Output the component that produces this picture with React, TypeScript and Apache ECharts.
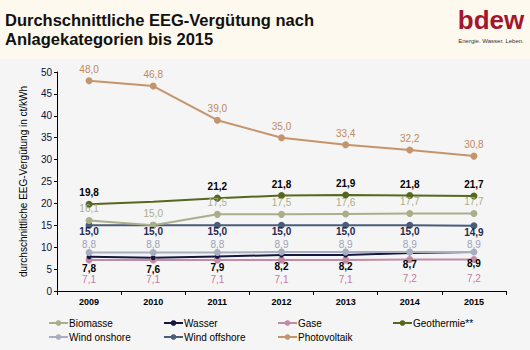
import React, { useEffect, useRef } from "react";
import * as echarts from "echarts";

const years = ["2009", "2010", "2011", "2012", "2013", "2014", "2015"];
const biomasse = [16.1, 15.0, 17.5, 17.5, 17.6, 17.7, 17.7];
const wasser = [7.8, 7.6, 7.9, 8.2, 8.2, 8.7, 8.9];
const gase = [7.1, 7.1, 7.1, 7.1, 7.1, 7.2, 7.2];
const geothermie = [19.8, 20.4, 21.2, 21.8, 21.9, 21.8, 21.7];
const windOnshore = [8.8, 8.8, 8.8, 8.9, 8.9, 8.9, 8.9];
const windOffshore = [15.0, 15.0, 15.0, 15.0, 15.0, 15.0, 14.9];
const photovoltaik = [48.0, 46.8, 39.0, 35.0, 33.4, 32.2, 30.8];
const geothermieHiddenIndex = 1;

const FONT = "'Liberation Sans', Arial, sans-serif";
const fmt1 = (p: any) => Number(p.value).toFixed(1).replace(".", ",");

function mk(name: string, data: any[], color: string, label: any, opts: any = {}) {
  return {
    name,
    type: "line",
    data,
    symbol: "circle",
    symbolSize: 7,
    itemStyle: { color },
    lineStyle: { color, width: 2 },
    label: { show: true, formatter: fmt1, fontFamily: FONT, fontSize: 10, ...label },
    ...opts,
  };
}

export default function App() {
  const ref = useRef<HTMLDivElement>(null);
  useEffect(() => {
    document.body.style.margin = "0";
    const chart = echarts.init(ref.current!, null, { renderer: "svg" });
    const geoData = geothermie.map((v, i) =>
      i === geothermieHiddenIndex ? { value: v, symbol: "none", label: { show: false } } : v
    );
    const legendBase = {
      orient: "vertical",
      top: 317,
      height: 33,
      padding: 0,
      itemWidth: 19,
      itemHeight: 7,
      itemGap: 2,
      textStyle: { fontFamily: FONT, fontSize: 10, color: "#000", padding: [0, 0, 0, -4], lineHeight: 12 },
    };
    chart.setOption({
      animation: false,
      backgroundColor: "#F5F5F5",
      textStyle: { fontFamily: FONT },
      graphic: [
        { type: "rect", shape: { x: 0, y: 0, width: 530, height: 59 }, style: { fill: "#FEF9EE" }, z: -10 },
        {
          type: "text", x: 5, y: 10,
          style: { text: "Durchschnittliche EEG-Vergütung nach\nAnlagekategorien bis 2015", font: "bold 16.5px 'Liberation Sans', Arial, sans-serif", fill: "#111", lineHeight: 19 },
        },
        {
          type: "text", x: 491, y: 20,
          style: { text: "bdew", font: "bold 26px 'Liberation Sans', Arial, sans-serif", fill: "#A3172E", textAlign: "center", textVerticalAlign: "middle" },
        },
        {
          type: "text", x: 491, y: 41,
          style: { text: "Energie. Wasser. Leben.", font: "6px 'Liberation Sans', Arial, sans-serif", fill: "#333", textAlign: "center", textVerticalAlign: "middle" },
        },
      ],
      grid: { left: 57, right: 24, top: 72, bottom: 59, containLabel: false },
      xAxis: {
        type: "category",
        data: years,
        boundaryGap: true,
        axisLine: { lineStyle: { color: "#000", width: 1 } },
        axisTick: { show: true, length: 4, lineStyle: { color: "#000" } },
        axisLabel: { fontFamily: FONT, fontSize: 9, fontWeight: "bold", color: "#000", margin: 6 },
        splitLine: { show: false },
      },
      yAxis: {
        type: "value",
        min: 0,
        max: 50,
        interval: 5,
        name: "durchschnittliche EEG-Vergütung in ct/kWh",
        nameLocation: "middle",
        nameGap: 29,
        nameTextStyle: { fontFamily: FONT, fontSize: 10, color: "#000" },
        axisLine: { show: true, lineStyle: { color: "#000", width: 1 } },
        axisTick: { show: true, length: 3, lineStyle: { color: "#000" } },
        axisLabel: { fontFamily: FONT, fontSize: 10, color: "#10103A", margin: 5 },
        splitLine: { show: false },
      },
      legend: [
        { ...legendBase, left: 48, data: ["Biomasse", "Wind onshore"] },
        { ...legendBase, left: 163, data: ["Wasser", "Wind offshore"] },
        { ...legendBase, left: 277, data: ["Gase", "Photovoltaik"] },
        { ...legendBase, left: 392, data: ["Geothermie**"] },
      ],
      series: [
        mk("Gase", gase, "#C08BA3", { position: "bottom", distance: 11, color: "#C47A9C" }),
        mk("Wasser", wasser, "#16163E", { position: "bottom", distance: 4, color: "#000", fontWeight: "bold" }, { symbolSize: 5 }),
        mk("Wind onshore", windOnshore, "#A6AEBF", { position: "top", distance: -1, color: "#9CA4B6" }),
        mk("Wind offshore", windOffshore, "#4B5C78", { position: "bottom", distance: -2, color: "#1E2A52", fontWeight: "bold" }),
        mk("Biomasse", biomasse, "#AAAF8B", { position: "top", distance: 3, color: "#A9AE8A" }),
        mk("Geothermie**", geoData, "#56681F", { position: "top", distance: 3, color: "#000", fontWeight: "bold" }),
        mk("Photovoltaik", photovoltaik, "#C4956C", { position: "top", distance: 3, color: "#C0895E" }),
      ],
    });
    return () => chart.dispose();
  }, []);
  return <div ref={ref} style={{ position: "fixed", left: 0, top: 0, width: 530, height: 350 }} />;
}
